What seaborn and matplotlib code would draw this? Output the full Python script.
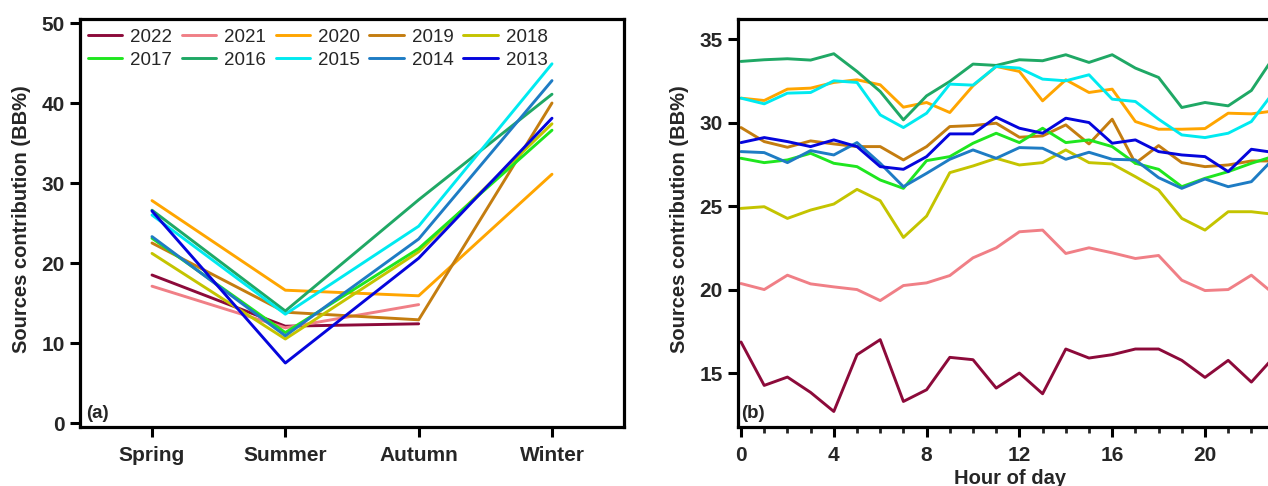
import numpy as np
import pandas as pd
import matplotlib
matplotlib.use("Agg")
import matplotlib.pyplot as plt
import seaborn as sns

years = ['2022', '2021', '2020', '2019', '2018', '2017', '2016', '2015', '2014', '2013']
colors = ['#8c0a3a', '#f07f86', '#ffa500', '#c47d10', '#c4c400',
          '#1fe61f', '#1fa865', '#00eaf0', '#1e7cc4', '#0505dc']

# (a) seasonal means, one value per year (same order as `years`)
seasons = ['Spring', 'Summer', 'Autumn', 'Winter']
spring = [18.5, 17.1, 27.8, 22.5, 21.2, 23.1, 26.6, 26.0, 23.3, 26.5]
summer = [12.1, 11.9, 16.6, 13.85, 10.5, 11.3, 14.0, 13.6, 10.9, 7.5]
autumn = [12.4, 14.8, 15.9, 12.9, 21.4, 21.8, 27.9, 24.6, 23.0, 20.6]
winter = [np.nan, np.nan, 31.1, 40.0, 37.4, 36.6, 41.1, 44.9, 42.8, 38.1]

# (b) diurnal cycles
hours = list(range(24))
h2022 = [16.86, 14.26, 14.76, 13.84, 12.7, 16.1, 17.0, 13.3, 14.0, 15.94, 15.8, 14.1,
         15.0, 13.76, 16.44, 15.9, 16.1, 16.44, 16.44, 15.76, 14.74, 15.76, 14.46, 16.0]
h2021 = [20.36, 20.0, 20.86, 20.34, 20.16, 20.0, 19.34, 20.24, 20.4, 20.84, 21.9, 22.5,
         23.46, 23.56, 22.16, 22.5, 22.2, 21.86, 22.04, 20.56, 19.94, 20.0, 20.86, 19.7]
h2020 = [31.46, 31.32, 32.0, 32.06, 32.4, 32.56, 32.26, 30.92, 31.2, 30.6, 32.2, 33.36,
         33.06, 31.3, 32.56, 31.8, 32.0, 30.06, 29.6, 29.6, 29.64, 30.56, 30.52, 30.7]
h2019 = [29.7, 28.86, 28.52, 28.9, 28.72, 28.56, 28.56, 27.76, 28.56, 29.76, 29.82, 29.96,
         29.12, 29.2, 29.86, 28.72, 30.2, 27.56, 28.62, 27.6, 27.36, 27.46, 27.7, 27.7]
h2018 = [24.86, 24.96, 24.26, 24.76, 25.12, 26.0, 25.32, 23.12, 24.4, 27.0, 27.4, 27.86,
         27.46, 27.6, 28.36, 27.6, 27.52, 26.76, 25.96, 24.26, 23.56, 24.66, 24.66, 24.5]
h2017 = [27.86, 27.6, 27.76, 28.16, 27.56, 27.36, 26.56, 26.06, 27.72, 27.96, 28.76, 29.36,
         28.8, 29.66, 28.8, 28.96, 28.56, 27.56, 27.2, 26.16, 26.66, 27.06, 27.56, 28.0]
h2016 = [33.66, 33.76, 33.82, 33.74, 34.12, 33.06, 31.86, 30.16, 31.6, 32.46, 33.5, 33.42,
         33.76, 33.7, 34.06, 33.6, 34.06, 33.26, 32.7, 30.9, 31.2, 31.0, 31.92, 34.0]
h2015 = [31.46, 31.12, 31.76, 31.8, 32.5, 32.4, 30.46, 29.7, 30.56, 32.3, 32.24, 33.36,
         33.26, 32.6, 32.5, 32.86, 31.4, 31.26, 30.2, 29.26, 29.1, 29.36, 30.06, 31.9]
h2014 = [28.26, 28.2, 27.6, 28.32, 28.06, 28.8, 27.56, 26.16, 26.96, 27.8, 28.36, 27.86,
         28.5, 28.46, 27.8, 28.22, 27.8, 27.76, 26.7, 26.06, 26.62, 26.16, 26.46, 27.9]
h2013 = [28.8, 29.1, 28.86, 28.56, 28.96, 28.56, 27.36, 27.2, 27.96, 29.32, 29.32, 30.32,
         29.66, 29.36, 30.26, 30.0, 28.76, 28.96, 28.26, 28.06, 27.96, 27.06, 28.4, 28.2]
diurnal = [h2022, h2021, h2020, h2019, h2018, h2017, h2016, h2015, h2014, h2013]

sns.set_style("ticks")
plt.rcParams['font.family'] = ['Liberation Sans', 'DejaVu Sans']
palette = dict(zip(years, colors))

# long tables for seaborn
season_rows = []
for i, yr in enumerate(years):
    for s, vals in zip(seasons, [spring, summer, autumn, winter]):
        season_rows.append({'year': yr, 'season': s, 'value': vals[i]})
df_season = pd.DataFrame(season_rows).dropna()

hour_rows = []
for yr, vals in zip(years, diurnal):
    for h, v in zip(hours, vals):
        hour_rows.append({'year': yr, 'hour': h, 'value': v})
df_hour = pd.DataFrame(hour_rows)

fig = plt.figure(figsize=(12.68, 4.86), dpi=100)
ax1 = fig.add_axes([80 / 1268, 59 / 486, 544 / 1268, 408 / 486])
ax2 = fig.add_axes([738 / 1268, 59 / 486, 544 / 1268, 408 / 486])

lw = 2.1
sns.lineplot(data=df_season, x='season', y='value', hue='year', hue_order=years,
             palette=palette, sort=False, linewidth=lw, ax=ax1, legend=False)
sns.lineplot(data=df_hour, x='hour', y='value', hue='year', hue_order=years,
             palette=palette, sort=False, linewidth=lw, ax=ax2, legend=False)

# panel (a)
ax1.set_xlim(-0.54, 3.54)
ax1.set_ylim(-0.5, 50.5)
ax1.set_yticks([0, 10, 20, 30, 40, 50])
ax1.set_xticks(range(len(seasons)))
ax1.set_xticklabels(seasons)
ax1.set_xlabel('')
ax1.set_ylabel('Sources contribution (BB%)', fontsize=14.5, fontweight='bold')
ax1.yaxis.set_label_coords(-0.09, 0.51)
ax1.text(0.011, 0.012, '(a)', transform=ax1.transAxes, fontsize=13.5,
         fontweight='bold', ha='left', va='bottom')

# legend in 2 rows, filled row by row
order = [0, 5, 1, 6, 2, 7, 3, 8, 4, 9]
handles = [plt.Line2D([], [], color=colors[i], lw=lw) for i in order]
labels = [years[i] for i in order]
ax1.legend(handles, labels, ncol=5, loc='upper left', bbox_to_anchor=(0.004, 0.99),
           frameon=False, fontsize=13.5, handlelength=1.85, handletextpad=0.42,
           columnspacing=0.5, labelspacing=0.32, borderaxespad=0.0, borderpad=0.3)

# panel (b)
ax2.set_xlim(-0.13, 23.32)
ax2.set_ylim(11.77, 36.2)
ax2.set_yticks([15, 20, 25, 30, 35])
ax2.set_xticks([0, 4, 8, 12, 16, 20])
ax2.set_xticks(range(24), minor=True)
ax2.set_xlabel('Hour of day', fontsize=14.5, fontweight='bold')
ax2.xaxis.set_label_coords(0.5, -0.102)
ax2.set_ylabel('Sources contribution (BB%)', fontsize=14.5, fontweight='bold')
ax2.yaxis.set_label_coords(-0.09, 0.51)
ax2.text(0.006, 0.012, '(b)', transform=ax2.transAxes, fontsize=13.5,
         fontweight='bold', ha='left', va='bottom')

for ax in (ax1, ax2):
    for sp in ax.spines.values():
        sp.set_linewidth(2.3)
        sp.set_color('black')
    ax.tick_params(axis='both', which='major', direction='out', length=7, width=2.2,
                   labelsize=15, color='black')
    ax.tick_params(axis='x', which='major', pad=7)
    ax.tick_params(axis='y', which='major', pad=4)
    ax.tick_params(axis='x', which='minor', direction='out', length=4.5, width=2.0)
    plt.setp(ax.get_xticklabels(), fontweight='bold')
    plt.setp(ax.get_yticklabels(), fontweight='bold')

fig.savefig('out.png', dpi=100)
plt.close(fig)
